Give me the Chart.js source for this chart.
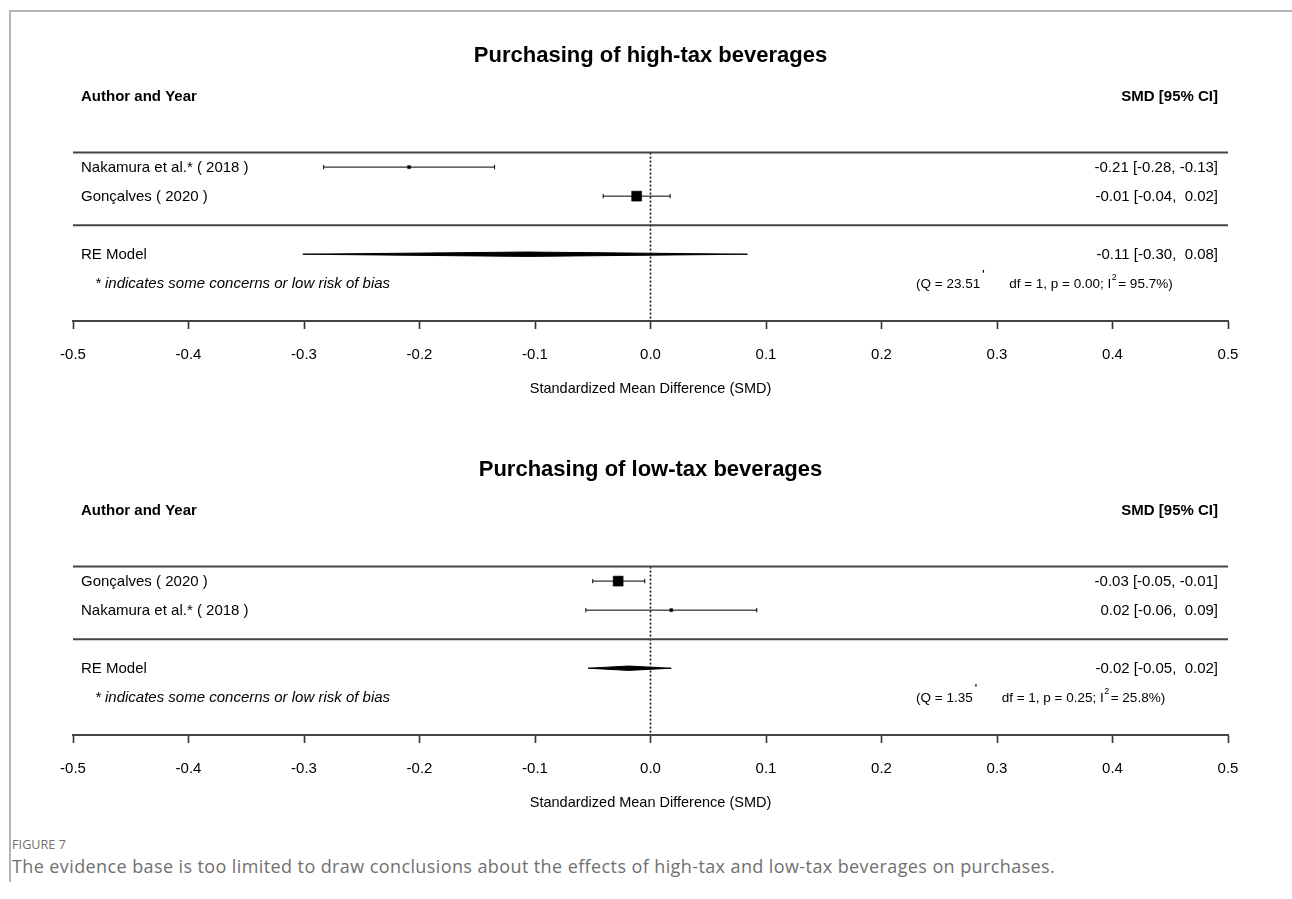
<!DOCTYPE html>
<html>
<head>
<meta charset="utf-8">
<script src="https://cdn.jsdelivr.net/npm/chart.js@4.4.1/dist/chart.umd.min.js"></script>
<style>
  html, body { margin: 0; padding: 0; background: #ffffff; }
  body { width: 1292px; height: 899px; position: relative; overflow: hidden; }
  .frame { position: absolute; left: 9px; top: 10px; width: 1283px; height: 872px;
           border-top: 2px solid #b4b4b4; border-left: 2px solid #b4b4b4; box-sizing: border-box; }
  .panel { position: absolute; left: 0; width: 1292px; height: 414px; }
  .cap1 { position: absolute; left: 12px; top: 836px; font-family: "Open Sans", "Noto Sans", sans-serif;
          font-size: 12.5px; color: #707070; letter-spacing: 0.1px; }
  .cap2 { position: absolute; left: 12px; top: 854px; font-family: "Open Sans", "Noto Sans", sans-serif;
          font-size: 18px; color: #707070; letter-spacing: 0.4px; white-space: nowrap; }
</style>
</head>
<body>
<div class="frame"></div>
<div class="panel" style="top:0px"><canvas id="c1"></canvas></div>
<div class="panel" style="top:414px"><canvas id="c2"></canvas></div>
<div class="cap1">FIGURE 7</div>
<div class="cap2">The evidence base is too limited to draw conclusions about the effects of high-tax and low-tax beverages on purchases.</div>
<script>
// ---------- DATA ----------
const tickValues = [-0.5, -0.4, -0.3, -0.2, -0.1, 0.0, 0.1, 0.2, 0.3, 0.4, 0.5];
const tickLabels = ['-0.5', '-0.4', '-0.3', '-0.2', '-0.1', '0.0', '0.1', '0.2', '0.3', '0.4', '0.5'];
const axisTitle = 'Standardized Mean Difference (SMD)';

// Panel 1: high-tax beverages
const highTitle = 'Purchasing of high-tax beverages';
const highStudies = ['Nakamura et al.* ( 2018 )', 'Gonçalves ( 2020 )'];
const highEst = [-0.209, -0.012];
const highLo = [-0.283, -0.041];
const highHi = [-0.135, 0.017];
const highWeight = [0.3, 1.0];
const highCI = ['-0.21 [-0.28, -0.13]', '-0.01 [-0.04,  0.02]'];
const highRE = [-0.107, -0.301, 0.084];      // estimate, lower, upper
const highREText = '-0.11 [-0.30,  0.08]';
const highStats = ['23.51', '1', '0.00', '95.7%']; // Q, df, p, I2

// Panel 2: low-tax beverages
const lowTitle = 'Purchasing of low-tax beverages';
const lowStudies = ['Gonçalves ( 2020 )', 'Nakamura et al.* ( 2018 )'];
const lowEst = [-0.028, 0.018];
const lowLo = [-0.050, -0.056];
const lowHi = [-0.005, 0.092];
const lowWeight = [1.0, 0.3];
const lowCI = ['-0.03 [-0.05, -0.01]', '0.02 [-0.06,  0.09]'];
const lowRE = [-0.019, -0.054, 0.018];
const lowREText = '-0.02 [-0.05,  0.02]';
const lowStats = ['1.35', '1', '0.25', '25.8%'];

const headerLeft = 'Author and Year';
const headerRight = 'SMD [95% CI]';
const reLabel = 'RE Model';
const footnote = '* indicates some concerns or low risk of bias';

// ---------- LAYOUT / STYLE ----------
const FONT = '"Liberation Sans", Arial, sans-serif';
const ROW_TOP_LINE = 2.5, ROW_MID_LINE = 0, ROW_RE = -1, ROW_FOOT = -2, ROW_HEADER = 4.42;
const Y_MIN = -3.3, Y_MAX = 5;
const DIAMOND_H = 0.075;
const SQUARE_MAX = 10; // px side for weight 1

const textPlugin = {
  id: 'forestText',
  afterDraw(chart, args, opts) {
    const ctx = chart.ctx;
    const ys = chart.scales.y;
    const area = chart.chartArea;
    const L = area.left + 8, R = area.right - 10;
    ctx.save();
    ctx.fillStyle = '#000';
    ctx.textBaseline = 'middle';
    // headers
    ctx.font = 'bold 15px ' + FONT;
    ctx.textAlign = 'left';
    ctx.fillText(headerLeft, L, ys.getPixelForValue(ROW_HEADER));
    ctx.textAlign = 'right';
    ctx.fillText(headerRight, R, ys.getPixelForValue(ROW_HEADER));
    // studies
    ctx.font = '15px ' + FONT;
    const n = opts.studies.length;
    opts.studies.forEach((s, i) => {
      const row = n - i;
      ctx.textAlign = 'left';
      ctx.fillText(s, L, ys.getPixelForValue(row) + 0.5);
      ctx.textAlign = 'right';
      ctx.fillText(opts.ci[i], R, ys.getPixelForValue(row) + 0.5);
    });
    ctx.textAlign = 'left';
    ctx.fillText(reLabel, L, ys.getPixelForValue(ROW_RE) + 0.5);
    ctx.textAlign = 'right';
    ctx.fillText(opts.reText, R, ys.getPixelForValue(ROW_RE) + 0.5);
    // footnote
    ctx.textAlign = 'left';
    ctx.font = 'italic 15px ' + FONT;
    ctx.fillText(footnote, area.left + 22, ys.getPixelForValue(ROW_FOOT) + 1);
    // stats
    const st = opts.stats;
    const yF = ys.getPixelForValue(ROW_FOOT) + 1;
    ctx.font = '13.5px ' + FONT;
    let x = area.left + 843;
    const t1 = '(Q = ' + st[0];
    ctx.fillText(t1, x, yF);
    x += ctx.measureText(t1).width;
    ctx.font = 'bold 10px ' + FONT;
    ctx.fillText("'", x + 2, yF - 9);
    x += 29;
    ctx.font = '13.5px ' + FONT;
    const t2 = 'df = ' + st[1] + ', p = ' + st[2] + '; I';
    ctx.fillText(t2, x, yF);
    x += ctx.measureText(t2).width;
    ctx.font = '9px ' + FONT;
    ctx.fillText('2', x + 0.5, yF - 7);
    x += 7;
    ctx.font = '13.5px ' + FONT;
    ctx.fillText('= ' + st[3] + ')', x, yF);
    ctx.restore();
  }
};

function makeDatasets(est, lo, hi, weight, re) {
  const n = est.length;
  const ds = [];
  // squares (on top)
  est.forEach((e, i) => {
    const side = SQUARE_MAX * weight[i];
    ds.push({
      data: [{x: e, y: n - i}],
      pointStyle: 'rect',
      pointRadius: side / Math.SQRT2,
      backgroundColor: '#000', borderColor: '#000', pointBorderWidth: 0.5,
      showLine: false
    });
  });
  // CI whiskers with end caps
  est.forEach((e, i) => {
    ds.push({
      data: [{x: lo[i], y: n - i}, {x: hi[i], y: n - i}],
      showLine: true, borderColor: '#000', borderWidth: 1,
      pointStyle: 'line', pointRotation: 90, pointRadius: 2.2,
      pointBorderColor: '#000', pointBorderWidth: 1
    });
  });
  // RE diamond
  ds.push({
    data: [{x: re[1], y: ROW_RE}, {x: re[0], y: ROW_RE + DIAMOND_H}, {x: re[2], y: ROW_RE},
           {x: re[0], y: ROW_RE - DIAMOND_H}, {x: re[1], y: ROW_RE}],
    showLine: true, fill: 'shape', backgroundColor: '#000', borderColor: '#000', borderWidth: 1,
    pointRadius: 0, tension: 0
  });
  // separators
  [ROW_TOP_LINE, ROW_MID_LINE].forEach(r => {
    ds.push({
      data: [{x: tickValues[0], y: r}, {x: tickValues[tickValues.length - 1], y: r}],
      showLine: true, borderColor: '#444', borderWidth: 2, pointRadius: 0
    });
  });
  // reference line at 0
  ds.push({
    data: [{x: 0, y: ROW_TOP_LINE}, {x: 0, y: Y_MIN}],
    showLine: true, borderColor: '#111', borderWidth: 1.6, borderDash: [2, 2], pointRadius: 0
  });
  return ds;
}

function makeChart(id, title, studies, est, lo, hi, weight, ci, re, reText, stats) {
  return new Chart(document.getElementById(id), {
    type: 'scatter',
    data: { datasets: makeDatasets(est, lo, hi, weight, re) },
    plugins: [textPlugin],
    options: {
      responsive: true, maintainAspectRatio: false, animation: false, events: [],
      devicePixelRatio: 1,
      layout: { padding: { left: 73, right: 64, top: 0, bottom: 0 } },
      plugins: {
        legend: { display: false }, tooltip: { enabled: false },
        title: { display: true, text: title, color: '#000',
                 font: { family: FONT, size: 22, weight: 'bold', lineHeight: 1.2 },
                 padding: { top: 43, bottom: 10.6 } },
        forestText: { studies: studies, ci: ci, reText: reText, stats: stats }
      },
      scales: {
        x: {
          type: 'linear', position: 'bottom', min: tickValues[0], max: tickValues[tickValues.length - 1],
          afterBuildTicks: (s) => { s.ticks = tickValues.map(v => ({ value: v })); },
          afterFit: (s) => { s.height = 93; },
          ticks: { color: '#000', font: { family: FONT, size: 15 }, padding: 17.3, maxRotation: 0,
                   autoSkip: false, callback: (v, i) => tickLabels[i] },
          grid: { drawOnChartArea: false, drawTicks: true, tickLength: 8, color: '#333', tickWidth: 1.6 },
          border: { display: true, color: '#444', width: 2 },
          title: { display: true, text: axisTitle, color: '#000', font: { family: FONT, size: 14.5 },
                   padding: { top: 0, bottom: 16 } }
        },
        y: { type: 'linear', display: false, min: Y_MIN, max: Y_MAX }
      }
    }
  });
}

makeChart('c1', highTitle, highStudies, highEst, highLo, highHi, highWeight, highCI, highRE, highREText, highStats);
makeChart('c2', lowTitle, lowStudies, lowEst, lowLo, lowHi, lowWeight, lowCI, lowRE, lowREText, lowStats);
</script>
</body>
</html>
